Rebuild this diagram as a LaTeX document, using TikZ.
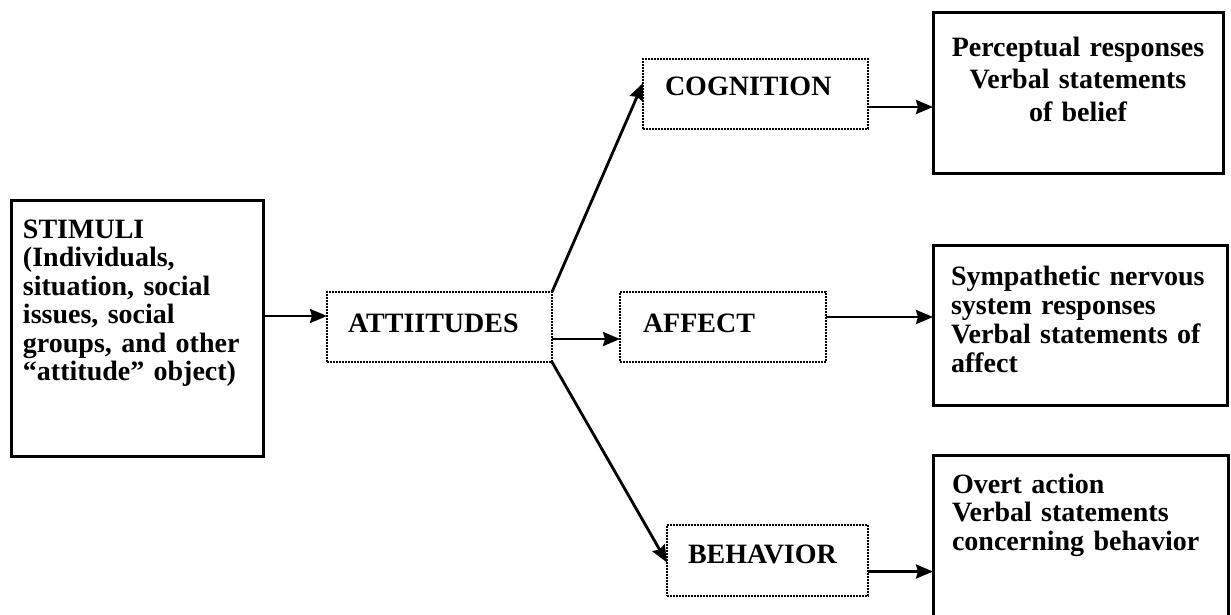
\documentclass[tikz,border=0pt]{standalone}
\usepackage{fontspec}
\setmainfont{Liberation Serif}
\usetikzlibrary{arrows.meta}
\begin{document}
\begin{tikzpicture}[x=1pt,y=-1pt]
\tikzstyle{solid box}=[rectangle,draw,line width=3pt,inner ysep=0pt,outer sep=0pt,anchor=north west]
\tikzstyle{dot box}=[rectangle,draw,line width=2.2pt,dash pattern=on 1.8pt off 1.2pt,inner ysep=0pt,outer sep=0pt,anchor=north west,align=left]
\tikzset{
	every node/.style={font=\bfseries\fontsize{28}{28.5}\selectfont},
	arrow/.style={line width=2.8pt,-{Stealth[length=17pt,width=14pt,inset=2pt]}}
}
\useasboundingbox (0,0) rectangle (1231,614);
\node[solid box,inner xsep=12pt,text width=228pt,align=left,text height=38pt,text depth=218pt] (stimuli) at (11,200)
	{STIMULI\\(Individuals,\\situation, social\\issues, social\\groups, and other\\“attitude” object)};
\node[dot box,inner xsep=21pt,text width=183pt,text height=40pt,text depth=30pt] (attitudes) at (327,292) {ATTIITUDES};
\node[dot box,inner xsep=22pt,text width=181pt,text height=36pt,text depth=34pt] (cognition) at (643,59) {COGNITION};
\node[dot box,inner xsep=23pt,text width=160pt,text height=40pt,text depth=30pt] (affect) at (620,292) {AFFECT};
\node[dot box,inner xsep=21pt,text width=159pt,text height=38pt,text depth=33pt] (behavior) at (667,525) {BEHAVIOR};
\node[solid box,inner xsep=0pt,text width=290pt,align=center,text height=44pt,text depth=117pt,
	font=\bfseries\fontsize{28}{32.5}\selectfont] (beliefs) at (933,12)
	{Perceptual responses\\Verbal statements\\of belief};
\node[solid box,inner xsep=18pt,text width=258pt,align=left,text height=40pt,text depth=120pt,
	font=\bfseries\fontsize{28}{29.3}\selectfont] (feelings) at (933,245)
	{Sympathetic nervous\\system responses\\Verbal statements of\\affect};
\node[solid box,inner xsep=19pt,text width=257pt,align=left,text height=38pt,text depth=137pt,
	font=\bfseries\fontsize{28}{28.7}\selectfont] (actions) at (933,455)
	{Overt action\\Verbal statements\\concerning behavior};

\draw[arrow] ([yshift=12pt]stimuli.east) -- ([yshift=12pt]stimuli.east -| attitudes.west);
\draw[arrow] (attitudes.north east) -- ([yshift=11pt]cognition.west);
\draw[arrow] ([yshift=-12pt]attitudes.east) -- ([yshift=-12pt]attitudes.east -| affect.west);
\draw[arrow] (attitudes.south east) -- ([yshift=-2pt]behavior.west);
\draw[arrow] ([yshift=-13pt]cognition.east) -- ([yshift=-13pt]cognition.east -| beliefs.west);
\draw[arrow] ([yshift=10pt]affect.east) -- ([yshift=10pt]affect.east -| feelings.west);
\draw[arrow] ([yshift=-11pt]behavior.east) -- ([yshift=-11pt]behavior.east -| actions.west);
\end{tikzpicture}
\end{document}
